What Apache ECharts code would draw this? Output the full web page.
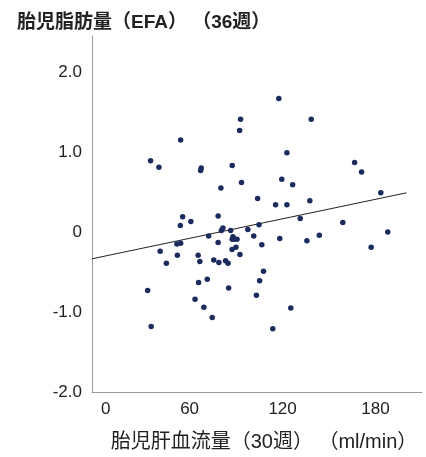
<!DOCTYPE html>
<html>
<head>
<meta charset="utf-8">
<script src="https://cdn.jsdelivr.net/npm/echarts@6/dist/echarts.min.js"></script>
<style>
html,body{margin:0;padding:0;background:#fff;}
#c{width:426px;height:457px;}
</style>
</head>
<body>
<div id="c"></div>
<script>
// Fetal liver blood flow at 30 weeks (ml/min)
const flow30w = [117.6, 92.9, 138.5, 92.3, 54.2, 34.8, 40.2, 67.5, 67.1, 87.5,
  166.5, 171.0, 122.8, 93.5, 119.5, 126.5, 80.2, 103.9, 115.5, 122.8,
  137.6, 183.4, 131.4, 158.9, 55.5, 60.8, 54.0, 78.4, 81.5, 80.5,
  86.5, 97.6, 104.8, 72.3, 88.0, 89.0, 90.6, 87.5, 101.4, 118.2,
  135.7, 143.7, 187.9, 78.4, 106.6, 177.2, 89.9, 87.4, 92.5, 51.8,
  54.2, 41.0, 52.1, 65.5, 66.6, 45.0, 75.6, 78.9, 83.2, 84.8,
  107.7, 105.2, 71.4, 65.8, 85.2, 32.9, 103.1, 63.5, 69.2, 125.3,
  74.6, 35.2, 113.7];
// Fetal fat (EFA) at 36 weeks
const efa36w = [1.67, 1.41, 1.41, 1.27, 1.15, 0.89, 0.81, 0.80, 0.77, 0.83,
  0.87, 0.75, 0.99, 0.62, 0.66, 0.59, 0.55, 0.42, 0.34, 0.34,
  0.39, 0.49, 0.17, 0.12, 0.19, 0.13, 0.08, 0.20, 0.05, 0.02,
  0.02, 0.03, 0.09, -0.05, -0.06, -0.09, -0.09, -0.09, -0.05, -0.08,
  -0.11, -0.04, 0.00, -0.13, -0.16, -0.19, -0.19, -0.22, -0.28, -0.15,
  -0.14, -0.24, -0.29, -0.29, -0.37, -0.39, -0.35, -0.38, -0.36, -0.39,
  -0.49, -0.61, -0.59, -0.63, -0.70, -0.73, -0.79, -0.84, -0.94, -0.95,
  -1.07, -1.18, -1.21];
// Regression line end points
const fitX = [-3, 200];
const fitY = [-0.335, 0.49];
// Tick labels
const xTicks = [0, 60, 120, 180];
const yTicks = [-2, -1, 0, 1, 2];

const pts = flow30w.map((x, i) => [x, efa36w[i]]);
const fit = fitX.map((x, i) => [x, fitY[i]]);

const chart = echarts.init(document.getElementById('c'), null, {renderer: 'canvas'});
const font = '"Liberation Sans", Arial, "Noto Sans CJK JP", sans-serif';
chart.setOption({
  animation: false,
  backgroundColor: '#ffffff',
  title: {
    text: '胎児脂肪量（EFA） （36週）',
    left: 12, top: 8,
    textStyle: {fontFamily: font, fontSize: 19, fontWeight: 'bold', color: '#222'}
  },
  grid: {left: 92, right: 4, top: 36, bottom: 56, containLabel: false},
  xAxis: {
    type: 'value', min: -3, max: 210,
    name: '胎児肝血流量（30週） （ml/min）',
    nameLocation: 'middle', nameGap: 40,
    nameTextStyle: {fontFamily: font, fontSize: 20, color: '#222', padding: [0, 0, 0, 14]},
    axisLine: {show: true, onZero: false, lineStyle: {color: '#9a9a9a', width: 1}},
    axisTick: {show: false},
    splitLine: {show: false},
    axisLabel: {
      customValues: xTicks, margin: 9,
      fontFamily: font, fontSize: 17, color: '#222',
      formatter: v => v === 0 ? '{z|0}' : String(v),
      rich: {z: {fontFamily: font, fontSize: 17, color: '#222', padding: [0, 0, 0, 18]}}
    }
  },
  yAxis: {
    type: 'value', min: -2, max: 2.45,
    axisLine: {show: true, onZero: false, lineStyle: {color: '#9a9a9a', width: 1}},
    axisTick: {show: false},
    splitLine: {show: false},
    axisLabel: {
      customValues: yTicks, margin: 10,
      fontFamily: font, fontSize: 17, color: '#222',
      formatter: v => v === 0 ? '0' : v.toFixed(1)
    }
  },
  series: [
    {
      type: 'line', data: fit, symbol: 'none', silent: true,
      lineStyle: {color: '#222', width: 1}, z: 1
    },
    {
      type: 'scatter', data: pts, symbol: 'circle', symbolSize: 5.5,
      itemStyle: {color: '#1b2b5e', opacity: 1}, z: 2
    }
  ]
});
</script>
</body>
</html>
